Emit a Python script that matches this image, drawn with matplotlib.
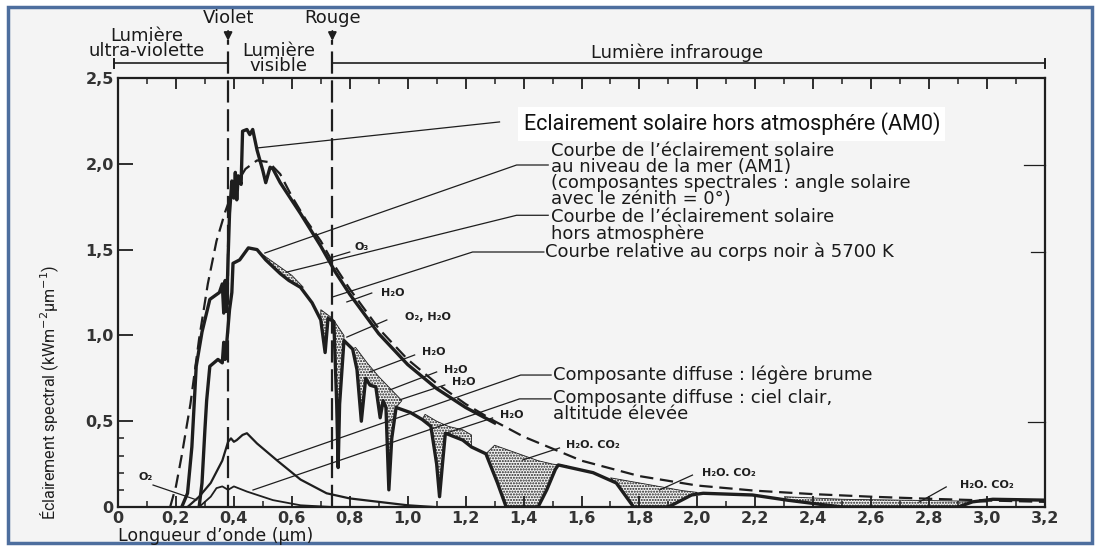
import numpy as np
import matplotlib.pyplot as plt
from matplotlib.patches import Rectangle

# longueur d'onde (um) et eclairement spectral (kW m-2 um-1)
bb_x = [0.18, 0.20, 0.22, 0.25, 0.28, 0.31, 0.34, 0.37, 0.40, 0.44, 0.48, 0.52, 0.56,
        0.60, 0.65, 0.70, 0.75, 0.80, 0.90, 1.00, 1.10, 1.20, 1.30, 1.40, 1.50, 1.60,
        1.80, 2.00, 2.20, 2.40, 2.60, 2.80, 3.00, 3.20]
bb_y = [0.0, 0.12, 0.30, 0.60, 0.98, 1.30, 1.55, 1.72, 1.86, 1.97, 2.02, 2.01, 1.94,
        1.81, 1.67, 1.55, 1.40, 1.27, 1.04, 0.86, 0.72, 0.60, 0.50, 0.41, 0.34, 0.27,
        0.18, 0.125, 0.095, 0.075, 0.06, 0.048, 0.038, 0.03]

am0_x = [0.22, 0.24, 0.255, 0.27, 0.29, 0.317, 0.35, 0.36, 0.365, 0.37, 0.375, 0.38,
         0.385, 0.393, 0.40, 0.405, 0.41, 0.415, 0.425, 0.43, 0.445, 0.455, 0.465,
         0.475, 0.48, 0.50, 0.51, 0.525, 0.535, 0.56, 0.63, 0.70, 0.75, 0.80, 0.90,
         1.00, 1.10, 1.20, 1.30]
am0_y = [0.0, 0.08, 0.35, 0.82, 1.02, 1.21, 1.25, 1.30, 1.13, 1.32, 1.14, 1.45,
         1.71, 1.90, 1.80, 1.95, 1.79, 1.93, 1.88, 2.19, 2.20, 2.17, 2.20,
         2.12, 2.08, 1.96, 1.89, 1.98, 1.97, 1.89, 1.71, 1.52, 1.37, 1.24, 1.01,
         0.83, 0.69, 0.58, 0.49]

am1_x = [0.28, 0.29, 0.30, 0.306, 0.317, 0.345, 0.36, 0.365, 0.37, 0.375, 0.385, 0.393,
         0.397, 0.42, 0.45, 0.48, 0.51, 0.56, 0.59, 0.63, 0.67, 0.70, 0.715, 0.725,
         0.745, 0.755, 0.76, 0.765, 0.78, 0.81, 0.825, 0.84, 0.855, 0.87, 0.89, 0.905,
         0.915, 0.925, 0.935, 0.945, 0.96, 1.01, 1.05, 1.08, 1.10, 1.11, 1.12, 1.13,
         1.19, 1.22, 1.27, 1.31, 1.34, 1.45, 1.48, 1.51, 1.52, 1.64, 1.72, 1.78, 1.90,
         1.98, 2.02, 2.19, 2.31, 2.45, 2.50, 2.90, 2.95, 3.02, 3.20]
am1_y = [0.0, 0.14, 0.45, 0.62, 0.82, 0.86, 0.84, 0.96, 0.86, 0.95, 1.15, 1.25,
         1.42, 1.44, 1.51, 1.50, 1.44, 1.36, 1.32, 1.28, 1.19, 1.09, 0.90, 1.10,
         1.08, 0.60, 0.23, 0.60, 0.97, 0.92, 0.80, 0.50, 0.75, 0.71, 0.70, 0.52,
         0.62, 0.58, 0.10, 0.40, 0.58, 0.55, 0.51, 0.47, 0.25, 0.06, 0.25, 0.43,
         0.39, 0.35, 0.31, 0.14, 0.0, 0.0, 0.10, 0.22, 0.245, 0.20, 0.14, 0.0, 0.0,
         0.07, 0.08, 0.07, 0.04, 0.01, 0.0, 0.0, 0.03, 0.045, 0.04]

# bord superieur des bandes d'absorption (zones pointillees)
env_x = [0.50, 0.55, 0.60, 0.64, 0.66, 0.70, 0.74, 0.78, 0.82, 0.86, 0.90, 0.94, 0.98,
         1.02, 1.06, 1.10, 1.14, 1.19, 1.22, 1.26, 1.30, 1.35, 1.40, 1.45, 1.50, 1.55,
         1.70, 1.75, 1.80, 1.85, 1.90, 1.95, 2.00, 2.30, 2.50, 2.70, 2.90, 3.00]
env_y = [1.47, 1.41, 1.35, 1.28, 1.22, 1.15, 1.10, 1.00, 0.93, 0.84, 0.76, 0.69, 0.62,
         0.58, 0.54, 0.50, 0.47, 0.45, 0.42, 0.39, 0.36, 0.33, 0.30, 0.27, 0.25, 0.24,
         0.17, 0.155, 0.14, 0.125, 0.11, 0.095, 0.085, 0.06, 0.045, 0.04, 0.035, 0.03]

bands = [(0.50, 0.64), (0.70, 0.78), (0.80, 0.98), (1.05, 1.22), (1.27, 1.55),
         (1.70, 2.00), (2.30, 3.00)]

brume_x = [0.24, 0.28, 0.32, 0.36, 0.38, 0.39, 0.40, 0.41, 0.43, 0.445, 0.48, 0.55,
           0.63, 0.72, 0.80, 0.90, 1.00, 1.09]
brume_y = [0.0, 0.06, 0.14, 0.27, 0.38, 0.40, 0.38, 0.39, 0.42, 0.43, 0.37, 0.27,
           0.16, 0.08, 0.05, 0.03, 0.01, 0.0]

clair_x = [0.28, 0.32, 0.34, 0.36, 0.38, 0.40, 0.445, 0.535, 0.63, 0.74]
clair_y = [0.0, 0.06, 0.11, 0.12, 0.10, 0.12, 0.09, 0.04, 0.01, 0.0]

x_ticks = [0, 0.2, 0.4, 0.6, 0.8, 1.0, 1.2, 1.4, 1.6, 1.8, 2.0, 2.2, 2.4, 2.6, 2.8, 3.0, 3.2]
x_labels = ['0', '0,2', '0,4', '0,6', '0,8', '1,0', '1,2', '1,4', '1,6', '1,8', '2,0',
            '2,2', '2,4', '2,6', '2,8', '3,0', '3,2']
y_ticks = [0, 0.5, 1.0, 1.5, 2.0, 2.5]
y_labels = ['0', '0,5', '1,0', '1,5', '2,0', '2,5']

violet = 0.38
rouge = 0.74

ink = '#1e1e1e'
txt_c = '#1a1a1a'
narrow = ['Roboto', 'DejaVu Sans']
plt.rcParams['hatch.linewidth'] = 1.0
plt.rcParams['hatch.color'] = ink

fig = plt.figure(figsize=(10.96, 5.46), dpi=100, facecolor='white')
fig.patches.append(Rectangle((8 / 1096, 3 / 546), 1084 / 1096, 536 / 546,
                             transform=fig.transFigure, facecolor='#f4f4f4',
                             edgecolor='#4d6e9e', linewidth=2.5, zorder=-10))

ax = fig.add_axes([118 / 1096, 1 - 507 / 546, 927 / 1096, 429 / 546])
ax.set_facecolor('none')
ax.set_xlim(0, 3.2)
ax.set_ylim(0, 2.5)
for s in ax.spines.values():
    s.set_linewidth(1.6)
    s.set_color(ink)

ax.set_xticks(x_ticks)
ax.set_xticklabels(x_labels)
ax.set_xticks(np.arange(0.1, 3.2, 0.2), minor=True)
ax.set_yticks(y_ticks)
ax.set_yticklabels(y_labels)
ax.set_yticks([0.1, 0.2, 0.3, 0.4], minor=True)
ax.tick_params(which='major', direction='in', length=8, width=1.3, color=ink,
               top=True, labelsize=11.5, labelcolor='#333333', pad=3)
ax.tick_params(which='minor', direction='in', length=4, width=1.1, color=ink, top=True)
ax.tick_params(axis='y', which='major', length=11)
for lab in ax.get_xticklabels() + ax.get_yticklabels():
    lab.set_fontweight('bold')

# courbes
ax.plot(bb_x, bb_y, color=ink, lw=1.6, ls=(0, (6, 3)))
ax.plot(am0_x, am0_y, color=ink, lw=2.4)
ax.plot(am1_x, am1_y, color=ink, lw=2.4)
ax.plot(brume_x, brume_y, color=ink, lw=1.6)
ax.plot(clair_x, clair_y, color=ink, lw=1.3)

a1x, a1y = np.array(am1_x), np.array(am1_y)
ex, ey = np.array(env_x), np.array(env_y)
for a, b in bands:
    m1 = (a1x >= a) & (a1x <= b)
    me = (ex >= a) & (ex <= b)
    px = np.concatenate([a1x[m1], ex[me][::-1]])
    py = np.concatenate([a1y[m1], ey[me][::-1]])
    ax.fill(px, py, facecolor='none', edgecolor=ink, lw=0.6, hatch='......')

# lignes violet / rouge
for xv, name in [(violet, 'Violet'), (rouge, 'Rouge')]:
    ax.plot([xv, xv], [0, 2.72], color=ink, lw=1.6, ls=(0, (10, 3)), clip_on=False)
    ax.annotate('', xy=(xv, 2.70), xytext=(xv, 2.79), annotation_clip=False,
                arrowprops=dict(arrowstyle='-|>', color=ink, lw=1.4, mutation_scale=12))
    ax.text(xv, 2.85, name, ha='center', va='center', fontsize=13, color=txt_c)

ax.plot([-0.015, violet], [2.587, 2.587], color=ink, lw=1.2, clip_on=False)
ax.plot([-0.015, -0.015], [2.56, 2.61], color=ink, lw=1.4, clip_on=False)
ax.plot([rouge, 3.2], [2.587, 2.587], color=ink, lw=1.2, clip_on=False)
ax.plot([3.2, 3.2], [2.56, 2.61], color=ink, lw=1.4, clip_on=False)
top_kw = dict(ha='center', va='center', fontsize=13, color=txt_c, linespacing=0.78)
ax.text(0.10, 2.70, 'Lumière\nultra-violette', **top_kw)
ax.text(0.555, 2.615, 'Lumière\nvisible', **top_kw)
ax.text(1.93, 2.646, 'Lumière infrarouge', **top_kw)

# etiquettes des courbes
ax.text(1.40, 2.232, 'Eclairement solaire hors atmosphére (AM0)', ha='left', va='center',
        fontsize=15.5, color='#111111', family=narrow,
        bbox=dict(boxstyle='square,pad=0.25', facecolor='white', edgecolor='none'))
ax.plot([1.317, 0.479], [2.244, 2.092], color=ink, lw=0.9)

lab_kw = dict(ha='left', va='top', fontsize=13, color=txt_c, linespacing=0.86)
ax.text(1.495, 2.125, "Courbe de l’éclairement solaire\nau niveau de la mer (AM1)\n"
        "(composantes spectrales : angle solaire\navec le zénith = 0°)", **lab_kw)
ax.text(1.495, 1.74, "Courbe de l’éclairement solaire\nhors atmosphère", **lab_kw)
ax.text(1.475, 1.486, "Courbe relative au corps noir à 5700 K", ha='left', va='center',
        fontsize=13, color=txt_c)
ax.text(1.50, 0.769, "Composante diffuse : légère brume", ha='left', va='center',
        fontsize=13, color=txt_c)
ax.text(1.50, 0.69, "Composante diffuse : ciel clair,\naltitude élevée", **lab_kw)

leaders = [
    [(1.485, 1.993), (1.376, 1.993), (0.507, 1.48)],
    [(1.485, 1.70), (1.376, 1.70), (0.583, 1.369)],
    [(1.47, 1.486), (1.224, 1.486), (0.741, 1.224)],
    [(1.495, 0.769), (1.39, 0.769), (0.548, 0.274)],
    [(1.495, 0.63), (1.386, 0.63), (0.466, 0.099)],
    [(3.128, 1.993), (3.2, 1.993)],
    [(3.15, 1.486), (3.2, 1.486)],
    [(3.14, 0.495), (3.2, 0.495)],
]
for pts in leaders:
    xs, ys = zip(*pts)
    ax.plot(xs, ys, color=ink, lw=0.9, clip_on=False)

# absorbants
mols = [
    ('O₃', (0.84, 1.515), [(0.8, 1.486), (0.731, 1.451)]),
    ('H₂O', (0.95, 1.247), [(0.876, 1.247), (0.79, 1.195)]),
    ('O₂, H₂O', (1.07, 1.107), [(0.928, 1.09), (0.79, 0.99)]),
    ('H₂O', (1.09, 0.903), [(1.024, 0.886), (0.869, 0.787)]),
    ('H₂O', (1.165, 0.798), [(1.1, 0.787), (0.938, 0.682)]),
    ('H₂O', (1.195, 0.728), [(1.128, 0.711), (0.972, 0.624)]),
    ('H₂O', (1.36, 0.536), [(1.293, 0.519), (1.134, 0.431)]),
    ('H₂O. CO₂', (1.64, 0.361), [(1.524, 0.344), (1.397, 0.274)]),
    ('H₂O. CO₂', (2.11, 0.198), [(1.983, 0.186), (1.869, 0.099)]),
    ('H₂O. CO₂', (3.0, 0.128), [(2.859, 0.117), (2.766, 0.029)]),
    ('O₂', (0.095, 0.175), [(0.121, 0.128), (0.272, 0.041)]),
]
for txt, (tx, ty), pts in mols:
    ax.text(tx, ty, txt, ha='center', va='center', fontsize=8, fontweight='bold', color=ink)
    xs, ys = zip(*pts)
    ax.plot(xs, ys, color=ink, lw=0.9)

fig.text(118 / 1096, 1 - 536 / 546, "Longueur d’onde (µm)", ha='left', va='center',
         fontsize=12.5, color=txt_c)
fig.text(50 / 1096, 1 - 392 / 546, "Éclairement spectral (kWm$^{-2}$µm$^{-1}$)",
         rotation=90, ha='center', va='center', fontsize=11.5, color=ink, family=narrow)

fig.savefig('out.png', dpi=100, facecolor='white')
